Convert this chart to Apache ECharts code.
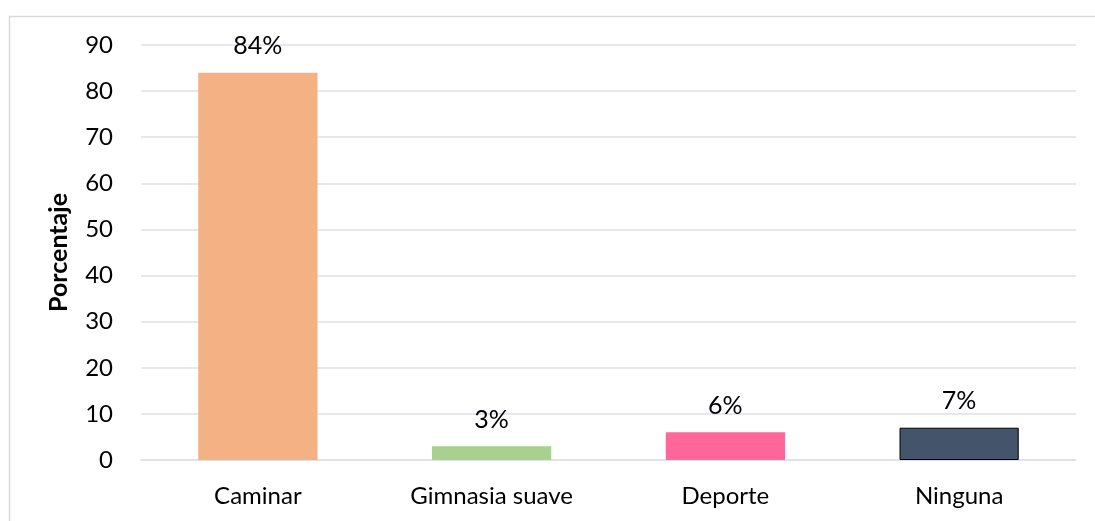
<!DOCTYPE html>
<html>
<head>
<meta charset="utf-8">
<script src="https://cdn.jsdelivr.net/npm/echarts@6/dist/echarts.min.js"></script>
<style>
  html, body { margin: 0; padding: 0; background: #ffffff; }
  #chart { width: 1095px; height: 521px; }
</style>
</head>
<body>
<div id="chart"></div>
<script>
// Actividad física realizada (porcentaje de participantes)
const categories = ['Caminar', 'Gimnasia suave', 'Deporte', 'Ninguna'];
const values = [84, 3, 6, 7];
const barColors = ['#F4B183', '#A9D18E', '#FF6699', '#44546A'];
const yTicks = { min: 0, max: 90, interval: 10 };

const FONT = 'Lato, "Open Sans", sans-serif';

const chart = echarts.init(document.getElementById('chart'), null, { renderer: 'canvas' });

chart.setOption({
  backgroundColor: '#ffffff',
  animation: false,
  graphic: [{
    type: 'rect',
    left: 7, top: 14,
    shape: { width: 1100, height: 520 },
    style: { fill: 'none', stroke: '#D9D9D9', lineWidth: 1.5 },
    silent: true
  }],
  grid: { left: 141, right: 19, top: 45, bottom: 61, containLabel: false },
  xAxis: {
    type: 'category',
    data: categories,
    axisLine: { show: true, lineStyle: { color: '#DDE1E6', width: 1.5 } },
    axisTick: { show: false },
    axisLabel: { color: '#000000', fontFamily: FONT, fontSize: 24, margin: 24 }
  },
  yAxis: {
    type: 'value',
    min: yTicks.min, max: yTicks.max, interval: yTicks.interval,
    name: 'Porcentaje',
    nameLocation: 'middle',
    nameGap: 70,
    nameTextStyle: { color: '#000000', fontFamily: FONT, fontSize: 25, fontWeight: 'bold' },
    axisLine: { show: false },
    axisTick: { show: false },
    axisLabel: { color: '#000000', fontFamily: FONT, fontSize: 24, margin: 28 },
    splitLine: { lineStyle: { color: '#DDE1E6', width: 1.5 } }
  },
  series: [{
    type: 'bar',
    data: values.map((v, i) => ({
      value: v,
      itemStyle: {
        color: barColors[i],
        borderColor: i === 3 ? '#000000' : barColors[i],
        borderWidth: i === 3 ? 1 : 0
      }
    })),
    barWidth: '51%',
    label: {
      show: true,
      position: 'top',
      distance: 14,
      formatter: '{c}%',
      color: '#000000',
      fontFamily: FONT,
      fontSize: 25
    }
  }]
});
</script>
</body>
</html>
